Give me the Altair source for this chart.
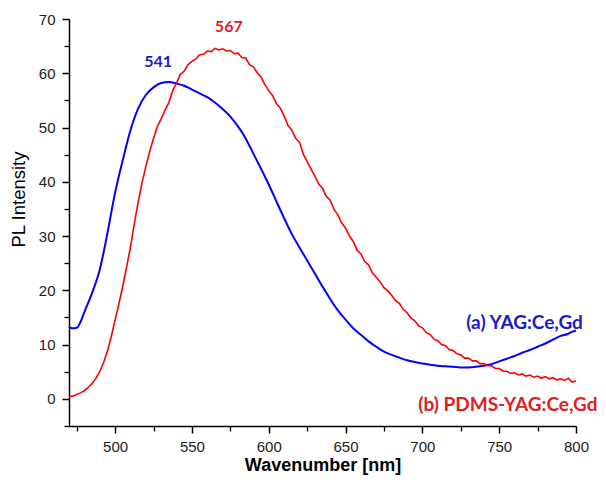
import altair as alt
import pandas as pd

# ---- data ----
blue_x = [470, 472, 475, 478, 480, 485, 490, 495, 500, 505, 510, 515, 520, 525, 530, 535, 540,
          545, 550, 555, 560, 565, 570, 575, 580, 585, 590, 595, 600, 605, 610, 615, 620, 625,
          630, 635, 640, 645, 650, 655, 660, 665, 670, 675, 680, 685, 690, 695, 700, 705, 710,
          715, 720, 725, 730, 735, 740, 745, 750, 755, 760, 765, 770, 775, 780, 785, 790, 795,
          797, 800]
blue_y = [13.3, 13.0, 13.1, 14.5, 16.0, 19.5, 23.8, 30.5, 38.0, 44.0, 49.5, 53.5, 56.0, 57.4,
          58.2, 58.4, 58.1, 57.7, 57.0, 56.3, 55.6, 54.6, 53.4, 52.0, 50.2, 48.0, 45.2, 42.4,
          39.5, 36.4, 33.3, 30.4, 27.9, 25.5, 23.1, 20.7, 18.4, 16.3, 14.6, 13.0, 11.8, 10.6,
          9.6, 8.7, 8.1, 7.6, 7.1, 6.8, 6.5, 6.3, 6.1, 6.0, 5.9, 5.8, 5.8, 5.9, 6.1, 6.4, 6.9,
          7.4, 7.9, 8.5, 9.0, 9.6, 10.2, 10.9, 11.6, 12.0, 12.3, 12.6]

red_x = [470 + 2.5 * i for i in range(133)]
red_y = [0.4, 0.5, 0.8, 1.1, 1.5, 2.1, 2.8, 3.8, 5.0, 6.7, 8.8, 11.5, 14.5, 17.6, 20.8, 24.3,
         28.0, 32.3, 36.2, 39.8, 42.8, 45.6, 48.0, 50.2, 51.6, 53.2, 54.6, 56.8, 58.2, 59.8,
         60.4, 61.6, 62.2, 62.6, 63.4, 63.5, 64.1, 64.0, 64.6, 64.3, 64.5, 64.1, 64.2, 63.6,
         63.7, 62.9, 62.8, 61.6, 61.2, 60.1, 59.3, 57.9, 56.8, 55.9, 54.4, 53.6, 52.1, 50.4,
         49.5, 48.0, 47.3, 45.1, 43.7, 42.4, 41.1, 39.6, 38.8, 37.3, 36.6, 34.9, 33.9, 32.4,
         31.5, 30.0, 29.0, 27.4, 26.7, 25.3, 24.7, 23.2, 22.4, 21.6, 20.5, 19.9, 19.1, 18.1,
         17.6, 16.5, 15.9, 14.9, 14.4, 13.5, 13.1, 12.2, 11.9, 11.0, 10.7, 10.0, 9.8, 9.1,
         8.9, 8.3, 8.1, 7.5, 7.5, 7.0, 7.0, 6.5, 6.5, 6.1, 6.1, 5.6, 5.6, 5.1, 5.1, 4.7, 4.8,
         4.4, 4.6, 4.2, 4.4, 4.0, 4.2, 3.8, 4.1, 3.7, 3.9, 3.5, 3.7, 3.4, 3.8, 3.1, 3.3]

x_major = [500, 550, 600, 650, 700, 750, 800]
x_minor = [475, 525, 575, 625, 675, 725, 775]
y_major = [0, 10, 20, 30, 40, 50, 60, 70]
y_minor = [-5, 5, 15, 25, 35, 45, 55, 65]

blue_df = pd.DataFrame({"x": blue_x, "y": blue_y})
red_df = pd.DataFrame({"x": red_x, "y": red_y})

FONT = "Liberation Sans"
xscale = alt.Scale(domain=[470, 800], nice=False, zero=False)
yscale = alt.Scale(domain=[-5, 70], nice=False, zero=False)

x_axis = alt.Axis(values=x_major, title="Wavenumber [nm]", orient="bottom", grid=False,
                  domainColor="black", domainWidth=1.5, tickColor="black", tickWidth=1.5,
                  tickSize=7, labelFont=FONT, labelFontSize=15, labelColor="#222",
                  labelPadding=6, labelFlush=False, titleFont=FONT,
                  titleFontSize=18, titleFontWeight="bold", titleColor="black", titlePadding=2)
y_axis = alt.Axis(values=y_major, title="PL Intensity", orient="left", grid=False,
                  domainColor="black", domainWidth=1.5, tickColor="black", tickWidth=1.5,
                  tickSize=7, labelFont=FONT, labelFontSize=15, labelColor="#222",
                  labelPadding=7, labelFlush=False, titleFont=FONT, titleY=180,
                  titleFontSize=18.5, titleFontWeight="normal", titleColor="black", titlePadding=10)

blue = alt.Chart(blue_df).mark_line(color="#0000ff", strokeWidth=2, interpolate="monotone").encode(
    x=alt.X("x:Q", scale=xscale, axis=x_axis),
    y=alt.Y("y:Q", scale=yscale, axis=y_axis),
)

red = alt.Chart(red_df).mark_line(color="#ff0000", strokeWidth=1.6).encode(
    x=alt.X("x:Q", scale=xscale, axis=x_axis),
    y=alt.Y("y:Q", scale=yscale, axis=y_axis),
)

TFONT = "Lato"


def label(xv, yv, txt, size, color, align="center"):
    return alt.Chart().mark_text(font=TFONT, fontSize=size, fontWeight="bold", color=color,
                                 align=align).encode(
        x=alt.XDatum(xv, scale=xscale, axis=x_axis),
        y=alt.YDatum(yv, scale=yscale, axis=y_axis),
        text=alt.value(txt))


lbl541 = label(528, 62, "541", 16, "#1a1acd")
lbl567 = label(574, 68.5, "567", 16, "#e0201e")
lbl_a = label(804.5, 14.0, "(a) YAG:Ce,Gd", 19, "#1a1acd", "right")
lbl_b = label(814, -1.2, "(b) PDMS-YAG:Ce,Gd", 19, "#e0201e", "right")

main = alt.layer(blue, red, lbl541, lbl567, lbl_a, lbl_b)

minor = alt.Chart(blue_df).mark_line(opacity=0).encode(
    x=alt.X("x:Q", scale=xscale,
            axis=alt.Axis(values=x_minor, orient="bottom", labels=False, domain=False,
                          grid=False, title=None, tickColor="black", tickWidth=1.3, tickSize=5)),
    y=alt.Y("y:Q", scale=yscale,
            axis=alt.Axis(values=y_minor, orient="left", labels=False, domain=False,
                          grid=False, title=None, tickColor="black", tickWidth=1.3, tickSize=5)),
)

chart = alt.layer(main, minor).resolve_axis(x="independent", y="independent").properties(
    width=507, height=407,
    padding={"left": 61, "top": 11, "right": 22, "bottom": 50},
    autosize=alt.AutoSizeParams(type="none"),
).configure_view(stroke=None)

chart.save("out.html", embed_options={"renderer": "svg", "actions": False})
